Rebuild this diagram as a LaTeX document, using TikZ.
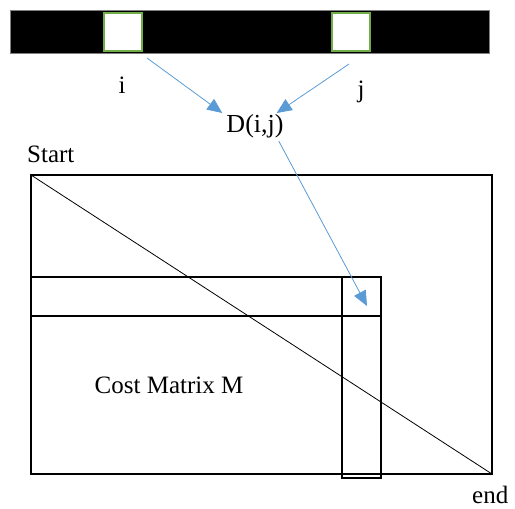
\documentclass[tikz,border=0pt]{standalone}
\usepackage{fontspec}
\setmainfont{Liberation Serif}
\usetikzlibrary{arrows.meta, calc}
\definecolor{wordblue}{HTML}{5B9BD5}
\definecolor{wordgreen}{HTML}{70AD47}
\tikzstyle{cell}=[draw=wordgreen, fill=white, line width=2pt, minimum size=38pt, inner sep=0pt]
\tikzstyle{lbl}=[font=\fontsize{25}{30}\selectfont, inner sep=1pt]
\tikzstyle{link}=[draw=wordblue, line width=0.8pt, -{Triangle[length=15pt, width=13pt]}]
\tikzstyle{frame}=[draw=black, line width=2pt]

\begin{document}
\begin{tikzpicture}[x=1pt, y=-1pt]
			\useasboundingbox (0,0) rectangle (515,509);
			% sequence bar
			\node[fill=black, draw=gray, line width=0.5pt, minimum width=479pt, minimum height=43pt, inner sep=0pt] (bar) at (249.5,31.5) {};
			\node[cell] (ci) at (123,32) {};
			\node[cell] (cj) at (351,32) {};
			\node[lbl] (li) at (122,85) {i};
			\node[lbl] (lj) at (361,92) {j};
			\node[lbl, font=\fontsize{26}{30}\selectfont] (dij) at (255,126) {D(i,j)};
			\coordinate (si) at (147,58);
			\coordinate (sj) at (349,64);
			\draw[link] (si) -- ($(dij.north west)+(-3,0)$);
			\draw[link] (sj) -- ($(dij.north east)+(-8,0)$);
			% cost matrix
			\coordinate (tl) at (31,175);
			\coordinate (br) at (492,474);
			\node[lbl, anchor=base west] (start) at (26,162) {Start};
			\node[lbl, anchor=base west, inner sep=0pt] (end) at (472,503) {end};
			\draw[frame] (tl) rectangle (br);
			\draw[line width=0.8pt] (tl) -- (br);
			\draw[frame] (31,277) rectangle (381,316);
			\draw[frame] (342,277) rectangle (381,478);
			\coordinate (hit) at (367,306);
			\draw[link] ($(dij.south east)+(-6,2)$) -- (hit);
			\node[lbl] (cost) at (169,385) {Cost Matrix M};
		\end{tikzpicture}
\end{document}
